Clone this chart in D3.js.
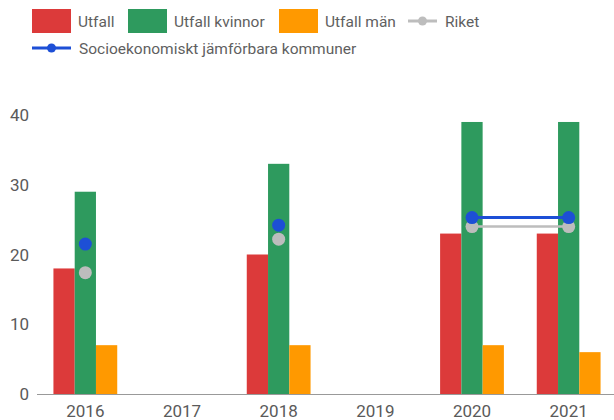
<!DOCTYPE html>
<html>
<head>
<meta charset="utf-8">
<script src="https://cdn.jsdelivr.net/npm/d3@7"></script>
<style>
  body { margin: 0; background: #fff; }
  text { font-family: Roboto, "Noto Sans", sans-serif; }
</style>
</head>
<body>
<div id="chart"></div>
<script>
// data
const years = ["2016", "2017", "2018", "2019", "2020", "2021"];
const utfall = [18, null, 20, null, 23, 23];
const utfallKvinnor = [29, null, 33, null, 39, 39];
const utfallMan = [7, null, 7, null, 7, 6];
const riket = [17.4, null, 22.2, null, 24, 24];
const jamforbara = [21.5, null, 24.2, null, 25.3, 25.3];
const yTicks = [0, 10, 20, 30, 40];

const width = 614, height = 420;
const margin = {top: 115, right: -3, bottom: 26, left: 37};

const svg = d3.select("#chart").append("svg")
  .attr("width", width)
  .attr("height", height);

// scales
const x = d3.scaleBand()
  .domain(years)
  .range([margin.left, width - margin.right])
  .paddingInner(0.34)
  .paddingOuter(0.17);

const bars = ["utfall", "kvinnor", "man"];
const x1 = d3.scaleBand().domain(bars).range([0, x.bandwidth()]);

const y = d3.scaleLinear().domain([0, 40]).range([height - margin.bottom, margin.top]);

const colors = {utfall: "#dc3a3a", kvinnor: "#2e9a5e", man: "#ff9900"};
const riketColor = "#bdbdbd", jamfColor = "#1d4fd6";

// y labels (no grid lines)
svg.append("g").selectAll("text")
  .data(yTicks).enter().append("text")
  .attr("x", 29)
  .attr("y", d => y(d))
  .attr("dy", "0.36em")
  .attr("text-anchor", "end")
  .attr("font-size", 17)
  .attr("fill", "#5a5a5a")
  .text(d => d);

// bars
const series = {utfall: utfall, kvinnor: utfallKvinnor, man: utfallMan};
bars.forEach(key => {
  svg.append("g").selectAll("rect")
    .data(years.map((yr, i) => ({yr: yr, v: series[key][i]})).filter(d => d.v != null))
    .enter().append("rect")
    .attr("x", d => x(d.yr) + x1(key))
    .attr("y", d => y(d.v))
    .attr("width", x1.bandwidth())
    .attr("height", d => y(0) - y(d.v))
    .attr("fill", colors[key]);
});

// x axis line + labels
svg.append("line")
  .attr("x1", margin.left).attr("x2", width)
  .attr("y1", y(0) + 0.5).attr("y2", y(0) + 0.5)
  .attr("stroke", "#999").attr("stroke-width", 1.2);

svg.append("g").selectAll("text")
  .data(years).enter().append("text")
  .attr("x", d => x(d) + x.bandwidth() / 2)
  .attr("y", y(0) + 23)
  .attr("text-anchor", "middle")
  .attr("font-size", 17)
  .attr("fill", "#5a5a5a")
  .text(d => d);

// lines (gaps where null)
function drawLine(vals, color, w) {
  const pts = years.map((yr, i) => ({yr: yr, v: vals[i]}));
  const line = d3.line()
    .defined(d => d.v != null)
    .x(d => x(d.yr) + x.bandwidth() / 2)
    .y(d => y(d.v));
  svg.append("path")
    .datum(pts)
    .attr("fill", "none")
    .attr("stroke", color)
    .attr("stroke-width", w)
    .attr("d", line);
  svg.append("g").selectAll("circle")
    .data(pts.filter(d => d.v != null)).enter().append("circle")
    .attr("cx", d => x(d.yr) + x.bandwidth() / 2)
    .attr("cy", d => y(d.v))
    .attr("r", 6.5)
    .attr("fill", color);
}
drawLine(riket, riketColor, 2.5);
drawLine(jamforbara, jamfColor, 3);

// legend
const legend = svg.append("g");
const legendItems = [
  {label: "Utfall", type: "rect", color: colors.utfall, x: 32, y: 21},
  {label: "Utfall kvinnor", type: "rect", color: colors.kvinnor, x: 128, y: 21},
  {label: "Utfall män", type: "rect", color: colors.man, x: 279, y: 21},
  {label: "Riket", type: "line", color: riketColor, x: 408, y: 21, w: 29},
  {label: "Socioekonomiskt jämförbara kommuner", type: "line", color: jamfColor, x: 32, y: 48, w: 39}
];
legendItems.forEach(it => {
  const g = legend.append("g");
  let tx;
  if (it.type === "rect") {
    g.append("rect").attr("x", it.x).attr("y", it.y - 12)
      .attr("width", 39).attr("height", 24).attr("fill", it.color);
    tx = it.x + 46;
  } else {
    g.append("line").attr("x1", it.x).attr("x2", it.x + it.w)
      .attr("y1", it.y).attr("y2", it.y)
      .attr("stroke", it.color).attr("stroke-width", 3);
    g.append("circle").attr("cx", it.x + it.w / 2).attr("cy", it.y)
      .attr("r", 4.5).attr("fill", it.color);
    tx = it.x + it.w + 8;
  }
  g.append("text").attr("x", tx).attr("y", it.y)
    .attr("dy", "0.36em")
    .attr("font-size", 15.5)
    .attr("fill", "#5f5f5f")
    .text(it.label);
});
</script>
</body>
</html>
